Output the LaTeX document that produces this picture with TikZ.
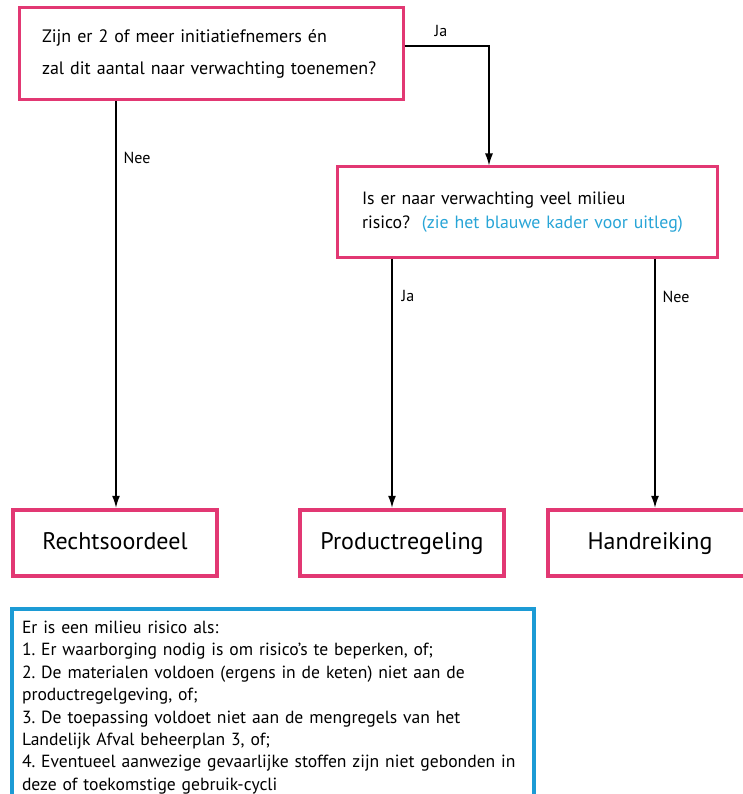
\documentclass[tikz,border=0pt]{standalone}
\usepackage{fontspec}
\setmainfont{PT Sans}
\usetikzlibrary{arrows.meta}
\definecolor{mypink}{RGB}{226,56,115}
\definecolor{myblue}{RGB}{28,155,213}
\definecolor{mybluetext}{RGB}{40,165,215}
\frenchspacing
\begin{document}
\begin{tikzpicture}[x=1pt,y=-1pt,
  qbox/.style={draw=mypink,line width=3pt,rectangle,inner sep=0pt,align=left},
  rbox/.style={draw=mypink,line width=4.5pt,rectangle,minimum width=204pt,minimum height=66pt,
    inner sep=0pt,text height=17pt,text depth=5pt,font=\fontsize{24}{26}\selectfont},
  infobox/.style={draw=myblue,line width=4pt,rectangle,inner xsep=10pt,inner ysep=0pt,align=left,
    minimum width=522pt,minimum height=197pt,anchor=north west,text width=502pt,
    font=\fontsize{17.6}{22.4}\selectfont\frenchspacing},
  arr/.style={-{Latex[length=12pt,width=8pt]},line width=1.3pt,black},
  lab/.style={font=\fontsize{16}{18}\selectfont,inner sep=0pt}]
\useasboundingbox (0,0) rectangle (743,794);
\fill[white] (0,0) rectangle (743,794);

\node[qbox,minimum width=384pt,minimum height=92pt,text width=338pt,font=\fontsize{18}{22}\selectfont] (b1) at (211,54)
  {Zijn er 2 of meer initiatiefnemers én\\[10pt]zal dit aantal naar verwachting toenemen?};
\node[qbox,minimum width=380pt,minimum height=90pt,text width=330pt,font=\fontsize{17.8}{24}\selectfont] (b2) at (527,212)
  {Is er naar verwachting veel milieu\\risico?\ \ {\color{mybluetext}(zie het blauwe kader voor uitleg)}\\[6pt]};

\node[rbox] (r1) at (115,543) {Rechtsoordeel};
\node[rbox] (r2) at (402,543) {Productregeling};
\node[rbox] (r3) at (650,543) {Handreiking};

\node[infobox] (info) at (10,607)
  {Er is een milieu risico als:\\
   1. Er waarborging nodig is om risico’s te beperken, of;\\
   2. De materialen voldoen (ergens in de keten) niet aan de\\
   productregelgeving, of;\\
   3. De toepassing voldoet niet aan de mengregels van het\\
   Landelijk Afval beheerplan 3, of;\\
   4. Eventueel aanwezige gevaarlijke stoffen zijn niet gebonden in\\
   deze of toekomstige gebruik-cycli};

\coordinate (jc) at (489,46);
\coordinate (nc) at (116,0);
\coordinate (pc) at (392,0);
\coordinate (hc) at (655,0);

\draw[arr] (b1.east |- jc) -| (jc |- b2.north);
\draw[arr] (nc |- b1.south) -- (nc |- r1.north);
\draw[arr] (pc |- b2.south) -- (pc |- r2.north);
\draw[arr] (hc |- b2.south) -- (hc |- r3.north);

\node[lab] (lja1) at (441,31) {Ja};
\node[lab] (lnee1) at (137,158) {Nee};
\node[lab] (lja2) at (408,296) {Ja};
\node[lab] (lnee2) at (676,297) {Nee};
\end{tikzpicture}
\end{document}
